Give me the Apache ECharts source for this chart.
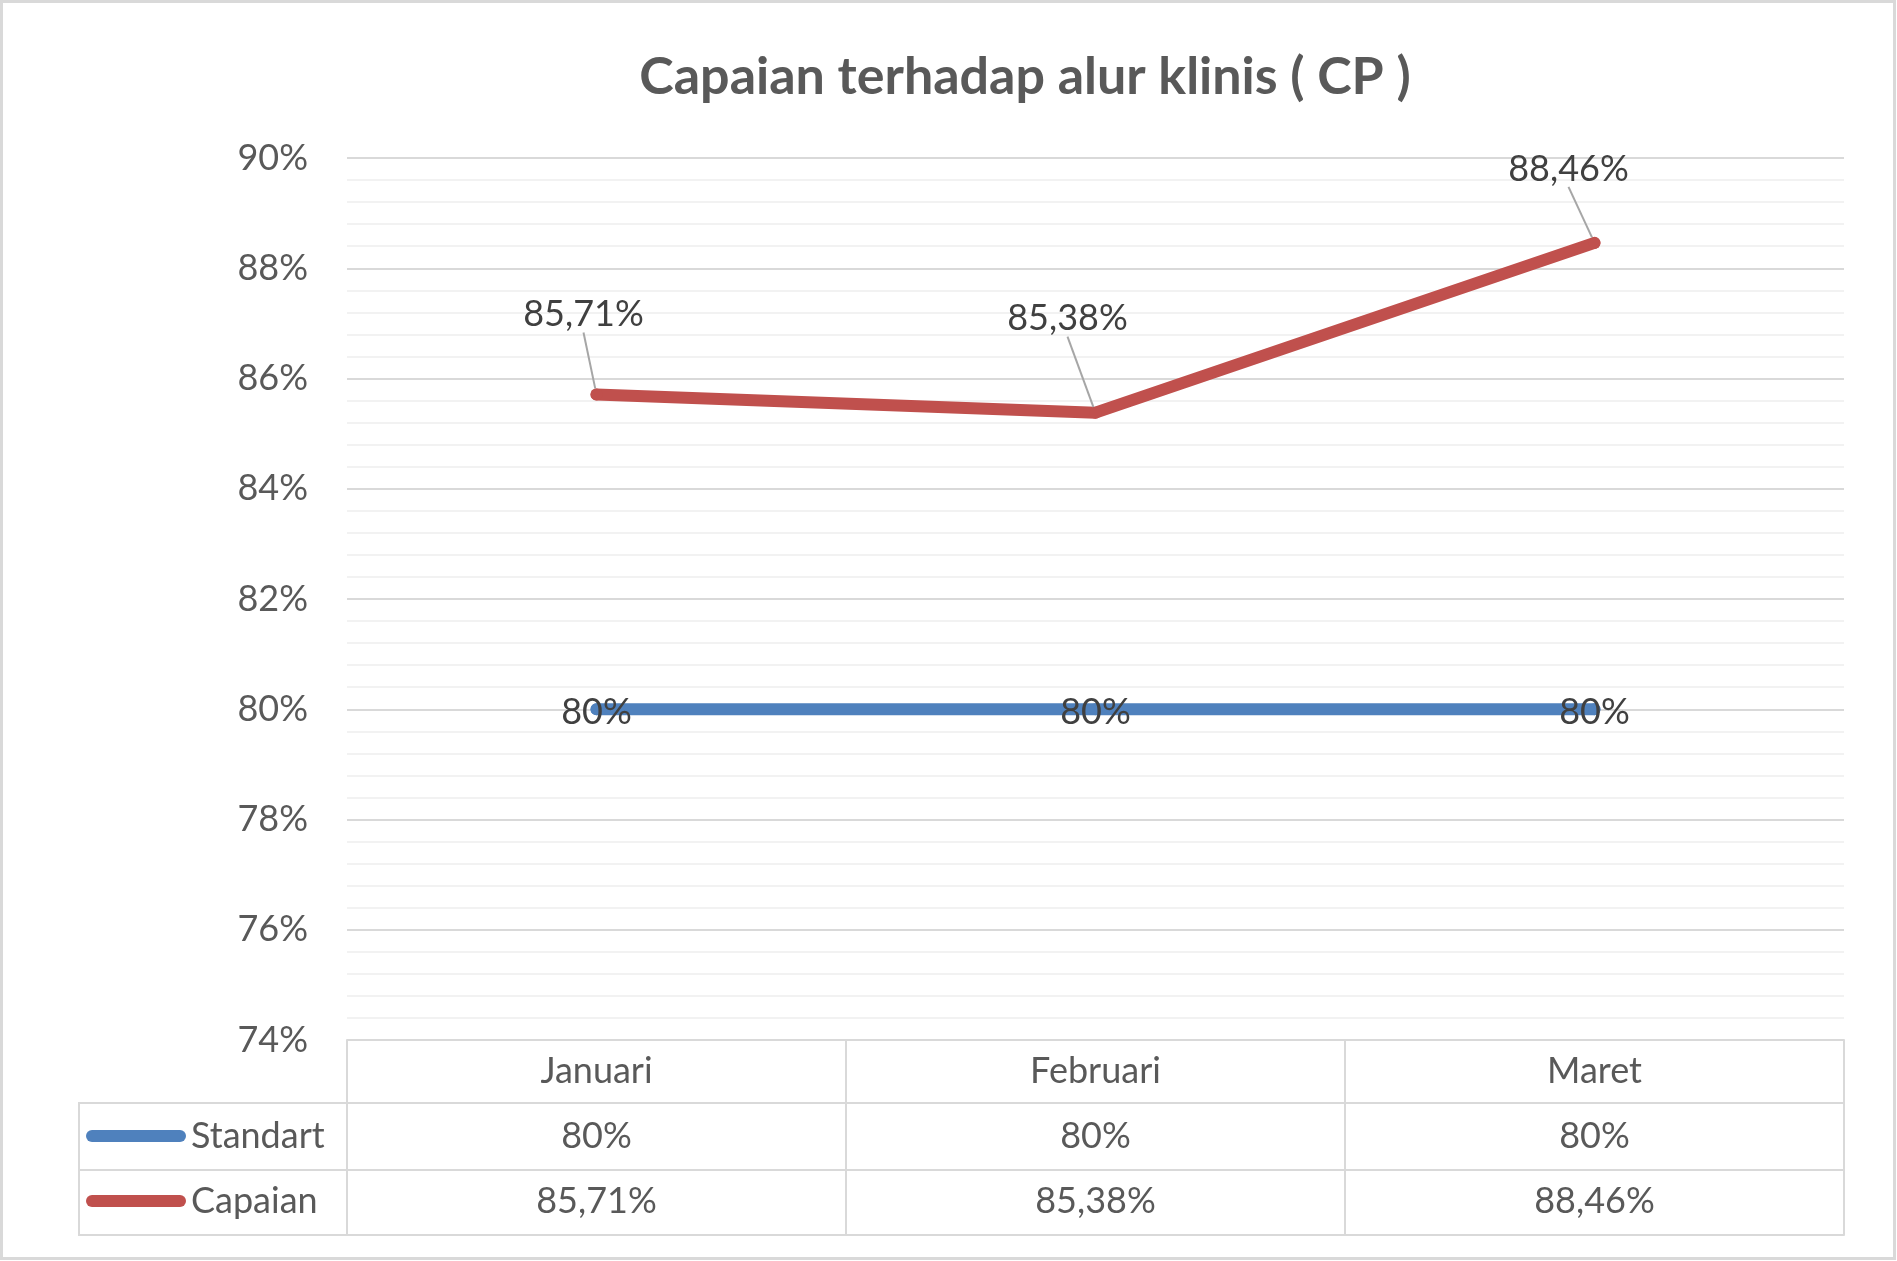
<!DOCTYPE html>
<html>
<head>
<meta charset="utf-8">
<script src="https://cdn.jsdelivr.net/npm/echarts@6/dist/echarts.min.js"></script>
<style>
  html, body { margin: 0; padding: 0; background: #fff; }
  #chart { width: 1897px; height: 1261px; }
</style>
</head>
<body>
<div id="chart"></div>
<script>
// data
var months = ['Januari', 'Februari', 'Maret'];
var standart = [80, 80, 80];
var capaian = [85.71, 85.38, 88.46];
var yTicks = { min: 74, max: 90, step: 2 };

function pct(v) {
    return String(v).replace('.', ',') + '%';
}

var FONT = 'Lato';
var FS = 36;
var grey = '#595959';
var dark = '#404040';
var lineC = '#d9d9d9';

// layout of plot + table
var G = { left: 347, right: 53, top: 158, bottom: 221 };
var W = 1897, H = 1261;
var plotBottom = H - G.bottom;     // 1040
var tableLeft = 79;
var rowH = [63, 67, 65];

// offsets of the capaian labels (label centre vs point)
var capOffset = [[-13, -80], [-28, -94], [-26, -74]];

var chart = echarts.init(document.getElementById('chart'));

var legendIcon = 'path://M6,0 L94,0 A6,6 0 0 1 94,12 L6,12 A6,6 0 0 1 6,0 Z';

function tableAxis(offset, labels, tickLen, margin) {
    return {
        type: 'category',
        data: months,
        position: 'bottom',
        offset: offset,
        axisLine: { show: true, lineStyle: { color: lineC, width: 2 } },
        axisTick: { show: tickLen > 0, length: tickLen, lineStyle: { color: lineC, width: 2 } },
        axisLabel: {
            show: !!labels,
            margin: margin,
            fontFamily: FONT,
            fontSize: FS,
            color: grey,
            formatter: function (v, i) { return labels ? labels[i] : v; }
        },
        splitLine: { show: false }
    };
}

var option = {
    backgroundColor: '#fff',
    animation: false,
    title: {
        text: 'Capaian terhadap alur klinis ( CP )',
        left: 1020,
        top: 46,
        textAlign: 'center',
        textStyle: { fontFamily: FONT, fontSize: 52, fontWeight: 'bold', color: grey }
    },
    legend: [
        {
            data: ['Standart'], left: 81, top: 1113, icon: legendIcon,
            itemWidth: 100, itemHeight: 12, selectedMode: false,
            textStyle: { fontFamily: FONT, fontSize: FS, color: grey }
        },
        {
            data: ['Capaian'], left: 81, top: 1178, icon: legendIcon,
            itemWidth: 100, itemHeight: 12, selectedMode: false,
            textStyle: { fontFamily: FONT, fontSize: FS, color: grey }
        }
    ],
    grid: { left: G.left, right: G.right, top: G.top, bottom: G.bottom },
    xAxis: [
        tableAxis(0, months, rowH[0], 13),
        tableAxis(rowH[0], standart.map(pct), rowH[1], 15),
        tableAxis(rowH[0] + rowH[1], capaian.map(pct), rowH[2], 13),
        tableAxis(rowH[0] + rowH[1] + rowH[2], null, 0, 0)
    ],
    yAxis: {
        type: 'value',
        min: yTicks.min,
        max: yTicks.max,
        interval: yTicks.step,
        axisLine: { show: false },
        axisTick: { show: false },
        axisLabel: {
            margin: 39,
            fontFamily: FONT,
            fontSize: FS,
            color: grey,
            formatter: '{value}%'
        },
        splitLine: { show: true, lineStyle: { color: lineC, width: 2 } },
        minorTick: { show: false, splitNumber: 5 },
        minorSplitLine: { show: true, lineStyle: { color: '#f2f2f2', width: 2 } }
    },
    series: [
        {
            name: 'Standart',
            type: 'line',
            data: standart,
            symbol: 'circle',
            symbolSize: 12,
            itemStyle: { color: '#4f81bd' },
            lineStyle: { color: '#4f81bd', width: 12, cap: 'round' },
            label: {
                show: true,
                position: 'inside',
                offset: [0, 3],
                fontFamily: FONT,
                fontSize: FS,
                color: dark,
                formatter: function (p) { return pct(p.value); }
            },
            z: 3
        },
        {
            name: 'Capaian',
            type: 'line',
            data: capaian,
            symbol: 'circle',
            symbolSize: 12,
            itemStyle: { color: '#c0504d' },
            lineStyle: { color: '#c0504d', width: 12, cap: 'round' },
            label: {
                show: true,
                position: 'inside',
                fontFamily: FONT,
                fontSize: FS,
                color: dark,
                formatter: function (p) { return pct(p.value); }
            },
            labelLine: { show: true, lineStyle: { color: '#a6a6a6', width: 2 } },
            labelLayout: function (p) {
                var o = capOffset[p.dataIndex];
                return { dx: o[0], dy: o[1] };
            },
            z: 4
        }
    ],
    graphic: [
        {
            type: 'rect',
            shape: { x: 1.5, y: 1.5, width: W - 4, height: H - 4 },
            style: { fill: null, stroke: lineC, lineWidth: 3 },
            silent: true
        },
        {
            type: 'polyline',
            shape: {
                points: [
                    [G.left, plotBottom + rowH[0]],
                    [tableLeft, plotBottom + rowH[0]],
                    [tableLeft, plotBottom + rowH[0] + rowH[1] + rowH[2]],
                    [G.left, plotBottom + rowH[0] + rowH[1] + rowH[2]]
                ]
            },
            style: { fill: null, stroke: lineC, lineWidth: 2 },
            silent: true
        },
        {
            type: 'line',
            shape: {
                x1: tableLeft, y1: plotBottom + rowH[0] + rowH[1],
                x2: G.left, y2: plotBottom + rowH[0] + rowH[1]
            },
            style: { stroke: lineC, lineWidth: 2 },
            silent: true
        },
        {
            type: 'line',
            shape: {
                x1: G.left, y1: plotBottom,
                x2: G.left, y2: plotBottom + rowH[0] + rowH[1] + rowH[2]
            },
            style: { stroke: lineC, lineWidth: 2 },
            silent: true
        }
    ]
};

chart.setOption(option);
</script>
</body>
</html>
